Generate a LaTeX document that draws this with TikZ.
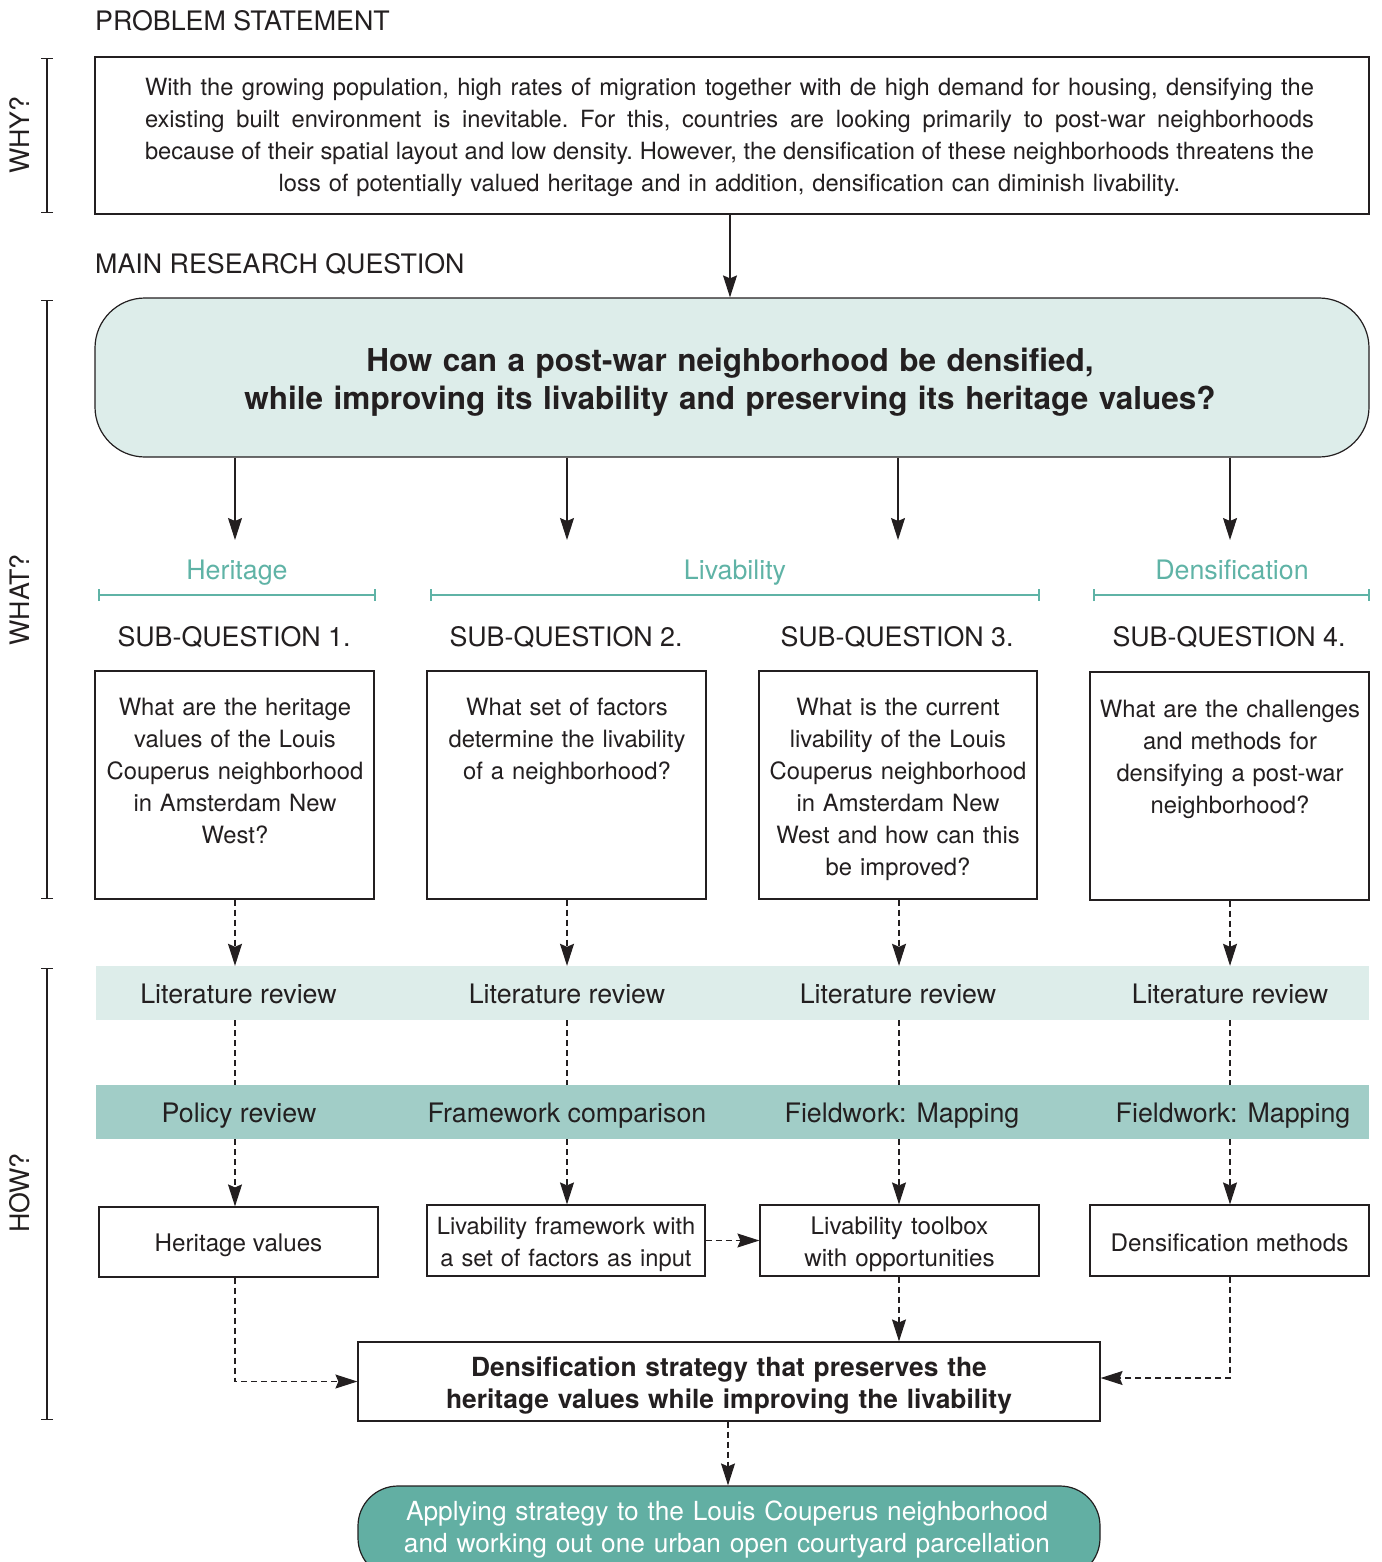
\documentclass[tikz,border=0pt]{standalone}
\usepackage{fontspec}
\setmainfont{TeX Gyre Heros}
\usetikzlibrary{arrows.meta}
\definecolor{ink}{HTML}{231F20}
\definecolor{pale}{HTML}{DDEDEA}
\definecolor{mid}{HTML}{A1CDC7}
\definecolor{deep}{HTML}{62AFA3}
\definecolor{tealtext}{HTML}{5FB3A6}
% one fully justified line of the problem statement
\newcommand{\justline}[1]{\hbox to 1169pt{\frenchspacing\spaceskip=\fontdimen2\font plus 1fil minus \fontdimen4\font\relax #1}}
% its centred closing line
\newcommand{\midline}[1]{\hbox to 1169pt{\frenchspacing\hfil #1\hfil}}
\begin{document}
\begin{tikzpicture}[x=1pt,y=-1pt,
  body/.style={font=\fontsize{23.8}{32}\selectfont, text=ink, inner sep=0pt},
  small/.style={font=\fontsize{24.2}{32}\selectfont, text=ink, inner sep=0pt},
  head/.style={font=\fontsize{26.8}{30}\selectfont, text=ink, inner sep=0pt},
  cat/.style={font=\fontsize{26.8}{30}\selectfont, text=tealtext, inner sep=0pt},
  box/.style={draw=ink, line width=1.2pt, fill=white, inner sep=0pt},
  band/.style={inner sep=0pt, minimum width=1273pt, minimum height=54pt},
  arr/.style={draw=ink, line width=1.2pt, -{Stealth[length=22pt,width=14pt,inset=3pt]}},
  dsh/.style={arr, dash pattern=on 6pt off 4pt},
  brk/.style={draw=ink, line width=1.3pt, {Bar[width=12pt]}-{Bar[width=12pt]}},
  grp/.style={draw=tealtext, line width=2pt, {Bar[width=12pt]}-{Bar[width=12pt]}}]
\useasboundingbox (0,0) rectangle (1381,1562);
\clip (0,0) rectangle (1381,1562);

% column centres
\coordinate (col1) at (235,0);
\coordinate (col2) at (567,0);
\coordinate (col3) at (899,0);
\coordinate (col4) at (1230,0);

% side brackets
\node[head, rotate=90] (why) at (20,135) {WHY?};
\node[head, rotate=90] (what) at (20,600) {WHAT?};
\node[head, rotate=90] (how) at (20,1193) {HOW?};
\draw[brk] (47,58) -- (47,213);
\draw[brk] (47,300) -- (47,899);
\draw[brk] (47,968) -- (47,1420);

% problem statement
\node[head, anchor=base west] (pslabel) at (95,30.5) {PROBLEM STATEMENT};
\node[box, minimum width=1274pt, minimum height=157pt] (prob) at (732,135.5) {};
\node[font=\fontsize{23.7}{32}\selectfont, text=ink, inner sep=0pt, text width=1169pt, anchor=base] (probtext) at (729.5,96)
  {\justline{With the growing population, high rates of migration together with de high demand for housing, densifying the}
   \justline{existing built environment is inevitable. For this, countries are looking primarily to post-war neighborhoods}
   \justline{because of their spatial layout and low density. However, the densification of these neighborhoods threatens the}
   \midline{loss of potentially valued heritage and in addition, densification can diminish livability.}};

% main research question
\node[head, anchor=base west] (mqlabel) at (95,273.5) {MAIN RESEARCH QUESTION};
\node[box, fill=pale, rounded corners=50pt, minimum width=1274pt, minimum height=159pt] (mq) at (732,377.5) {};
\node[font=\fontsize{31.5}{38}\bfseries, text=ink, align=center, inner sep=0pt, text width=1200pt, anchor=base] (mqtext) at (730,371)
  {How can a post-war neighborhood be densified,\\ while improving its livability and preserving its heritage values?};
\draw[arr] ([xshift=-2pt]prob.south) -- ([xshift=-2pt]mq.north);

% arrows to the four sub-questions
\coordinate (t1) at (235,540);
\coordinate (t2) at (567,540);
\coordinate (t3) at (898,540);
\coordinate (t4) at (1230,540);
\foreach \i in {1,2,3,4}{\draw[arr] (t\i |- mq.south) -- (t\i);}

% themes
\node[cat, anchor=base] (heritage) at (237,579.5) {Heritage};
\node[cat, anchor=base] (livability) at (735,579.5) {Livability};
\node[cat, anchor=base] (densification) at (1232,579.5) {Densification};
\draw[grp] (98,595) -- (376,595);
\draw[grp] (430,595) -- (1040,595);
\draw[grp] (1093,595) -- (1370,595);

% sub-question headings
\node[head, anchor=base] (sq1) at (234,646.5) {SUB-QUESTION 1.};
\node[head, anchor=base] (sq2) at (566,646.5) {SUB-QUESTION 2.};
\node[head, anchor=base] (sq3) at (897,646.5) {SUB-QUESTION 3.};
\node[head, anchor=base] (sq4) at (1229,646.5) {SUB-QUESTION 4.};

% sub-question boxes
\node[box, minimum width=279pt, minimum height=228pt] (q1) at (234.5,785) {};
\node[box, minimum width=279pt, minimum height=228pt] (q2) at (566.5,785) {};
\node[box, minimum width=278pt, minimum height=228pt] (q3) at (898,785) {};
\node[box, minimum width=279pt, minimum height=228pt] (q4) at (1229.5,786) {};
\node[body, align=center, text width=276pt, anchor=base] (q1text) at (235,715)
  {What are the heritage\\ values of the Louis\\ Couperus neighborhood\\ in Amsterdam New\\ West?};
\node[body, align=center, text width=276pt, anchor=base] (q2text) at (567,715)
  {What set of factors\\ determine the livability\\ of a neighborhood?};
\node[body, align=center, text width=276pt, anchor=base] (q3text) at (898,715)
  {What is the current\\ livability of the Louis\\ Couperus neighborhood\\ in Amsterdam New\\ West and how can this\\ be improved?};
\node[body, align=center, text width=276pt, anchor=base] (q4text) at (1230,717)
  {What are the challenges\\ and methods for\\ densifying a post-war\\ neighborhood?};

% method bands
\node[band, fill=pale] (lit) at (732.5,993) {};
\node[band, fill=mid] (meth) at (732.5,1112) {};
\node[head, anchor=base] (lit1) at (238.5,1003.5) {Literature review};
\node[head, anchor=base] (lit2) at (567,1003.5) {Literature review};
\node[head, anchor=base] (lit3) at (898,1003.5) {Literature review};
\node[head, anchor=base] (lit4) at (1230,1003.5) {Literature review};
\node[head, anchor=base] (m1) at (239,1122.5) {Policy review};
\node[head, anchor=base] (m2) at (567,1122.5) {Framework comparison};
\node[head, anchor=base] (m3) at (902,1122.5) {Fieldwork: Mapping};
\node[head, anchor=base] (m4) at (1233,1122.5) {Fieldwork: Mapping};

% outcome boxes
\node[box, minimum width=279pt, minimum height=70pt] (b1) at (238.5,1242) {};
\node[box, minimum width=278pt, minimum height=71pt] (b2) at (566,1240.5) {};
\node[box, minimum width=279pt, minimum height=71pt] (b3) at (899.5,1240.5) {};
\node[box, minimum width=279pt, minimum height=71pt] (b4) at (1229.5,1240.5) {};
\node[small, anchor=base] (b1text) at (238.5,1251.5) {Heritage values};
\node[small, font=\fontsize{23.7}{32}\selectfont, align=center, text width=276pt, anchor=base] (b2text) at (566,1234.5) {Livability framework with\\ a set of factors as input};
\node[small, align=center, text width=276pt, anchor=base] (b3text) at (899.5,1234.5) {Livability toolbox\\ with opportunities};
\node[small, anchor=base] (b4text) at (1229.5,1251.5) {Densification methods};

% flow through the methods
\foreach \i in {1,2,3,4}{
  \draw[dsh] (col\i |- q\i.south) -- (col\i |- lit.north);
  \draw[draw=ink, line width=1.2pt, dash pattern=on 6pt off 4pt] (col\i |- lit.south) -- (col\i |- meth.north);
  \draw[dsh] (col\i |- meth.south) -- (col\i |- b\i.north);
}
\draw[dsh] (b2.east) -- (b3.west);

% strategy and application
\node[box, minimum width=742pt, minimum height=79pt] (st) at (729,1381.5) {};
\node[font=\fontsize{26.35}{32}\bfseries, text=ink, align=center, text width=730pt, inner sep=0pt, anchor=base] (sttext) at (729,1376.5)
  {Densification strategy that preserves the\\ heritage values while improving the livability};
\draw[dsh] (col1 |- b1.south) |- (st.west);
\draw[dsh] (col3 |- b3.south) -- (col3 |- st.north);
\draw[dsh] (col4 |- b4.south) |- ([yshift=3.5pt]st.east);

\node[box, fill=deep, rounded corners=40pt, minimum width=742pt, minimum height=92pt] (fin) at (729,1532) {};
\node[font=\fontsize{26.3}{32}\selectfont, text=white, align=center, text width=730pt, inner sep=0pt, anchor=base] (fintext) at (727,1520.5)
  {Applying strategy to the Louis Couperus neighborhood\\ and working out one urban open courtyard parcellation};
\draw[dsh] ([xshift=-1pt]st.south) -- ([xshift=-1pt]fin.north);
\end{tikzpicture}
\end{document}
